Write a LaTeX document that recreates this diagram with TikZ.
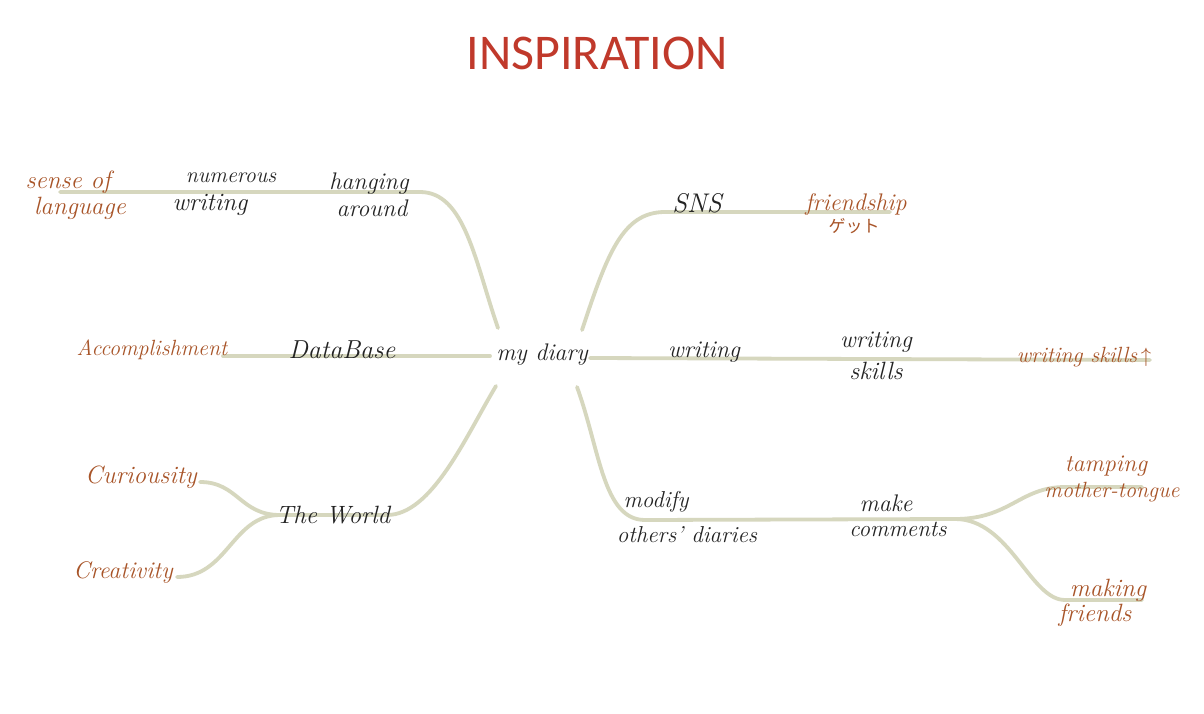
\documentclass[tikz,border=0pt]{standalone}
\usepackage{fontspec}
\newfontfamily\titlefont{Carlito}
\newfontfamily\jpfont{Noto Sans CJK JP}
\definecolor{linec}{RGB}{214,215,190}
\definecolor{browntxt}{RGB}{168,84,40}
\definecolor{blacktxt}{RGB}{35,35,35}
\definecolor{titlered}{RGB}{192,57,43}
\tikzset{
  conn/.style={draw=linec, line width=3.8pt, line cap=round},
  blk/.style={font=\fontsize{#1}{#1}\selectfont\itshape, text=blacktxt, inner sep=0pt},
  brn/.style={font=\fontsize{#1}{#1}\selectfont\itshape, text=browntxt, inner sep=0pt},
  blk/.default=23, brn/.default=23,
}
\begin{document}
\begin{tikzpicture}[x=1pt,y=-1pt]
\useasboundingbox[fill=white] (0,0) rectangle (1204,714);
% junction coordinates
\coordinate (cTL) at (498,328);
\coordinate (cTR) at (582,330);
\coordinate (cBL) at (496,386);
\coordinate (cBR) at (577,387);
\coordinate (tlA) at (420,192);
\coordinate (tlEnd) at (60,192);
\coordinate (trA) at (665,212);
\coordinate (trEnd) at (890,212);
\coordinate (mlA) at (490,356);
\coordinate (mlEnd) at (223,356);
\coordinate (mrA) at (590,358);
\coordinate (mrEnd) at (1150,360);
\coordinate (blA) at (387,515);
\coordinate (wJ) at (280,515);
\coordinate (curEnd) at (200,482);
\coordinate (creEnd) at (177,577);
\coordinate (brA) at (645,520);
\coordinate (mcJ) at (955,519);
\coordinate (tmA) at (1065,487);
\coordinate (tmEnd) at (1142,487);
\coordinate (mfA) at (1065,600);
\coordinate (mfEnd) at (1142,600);

% connectors
\draw[conn] (cTL) .. controls (475,262) and (465,192) .. (tlA) -- (tlEnd);
\draw[conn] (cTR) .. controls (607,255) and (622,212) .. (trA) -- (trEnd);
\draw[conn] (mlA) -- (mlEnd);
\draw[conn] (mrA) -- (mrEnd);
\draw[conn] (cBL) .. controls (466,436) and (432,515) .. (blA) -- (wJ);
\draw[conn] (wJ) .. controls (240,515) and (238,482) .. (curEnd);
\draw[conn] (wJ) .. controls (232,515) and (228,577) .. (creEnd);
\draw[conn] (cBR) .. controls (600,450) and (603,520) .. (brA) -- (mcJ);
\draw[conn] (mcJ) .. controls (1010,519) and (1020,487) .. (tmA) -- (tmEnd);
\draw[conn] (mcJ) .. controls (1010,519) and (1030,600) .. (mfA) -- (mfEnd);

% title
\node[font=\titlefont\fontsize{50}{52}\selectfont, text=titlered, inner sep=0pt] (title) at (597,53) {INSPIRATION};

% labels
\node[blk=24] (diary) at (542,355) {my diary};
\node[brn=25] (sense) at (68,182) {sense of};
\node[brn=25] (lang) at (80,208) {language};
\node[blk=22] (numer) at (231,178) {numerous};
\node[blk=25] (nwrit) at (210,205) {writing};
\node[blk=24] (hang) at (369,184) {hanging};
\node[blk=24] (around) at (372,208) {around};
\node[blk=27] (sns) at (697,203) {SNS};
\node[brn=24] (friend) at (856,205) {friendship};
\node[text=browntxt, font=\jpfont\fontsize{17}{17}\selectfont, inner sep=0pt] (get) at (854,226) {ゲット};
\node[brn=22] (accom) at (152,350) {Accomplishment};
\node[blk=26] (db) at (342,350) {DataBase};
\node[blk=24] (writ) at (704,352) {writing};
\node[blk=24] (ws1) at (876,342) {writing};
\node[blk=25] (ws2) at (876,371) {skills};
\node[brn=22] (wsk) at (1084,357) {writing skills\,$\uparrow$};
\node[brn=25] (cur) at (141,477) {Curiousity};
\node[brn=24] (cre) at (123,572) {Creativity};
\node[blk=25] (world) at (333,515) {The World};
\node[blk=23] (modify) at (656,502) {modify};
\node[blk=23] (others) at (687,535) {others' diaries};
\node[blk=24] (make) at (886,503) {make};
\node[blk=23] (comm) at (898,529) {comments};
\node[brn=24] (tamp) at (1106,466) {tamping};
\node[brn=22] (mother) at (1112,492) {mother-tongue};
\node[brn=25] (making) at (1108,590) {making};
\node[brn=25] (friends) at (1095,615) {friends};
\end{tikzpicture}
\end{document}
